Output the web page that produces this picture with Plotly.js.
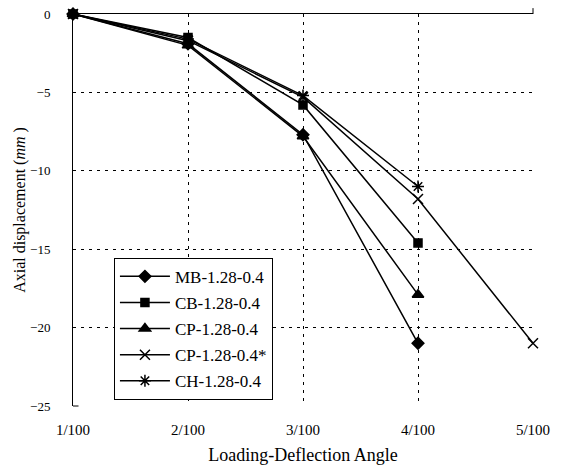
<!DOCTYPE html>
<html><head><meta charset="utf-8">
<script src="https://cdn.plot.ly/plotly-3.0.1.min.js"></script>
<style>body{margin:0;background:#fff}#c{width:569px;height:466px}</style>
</head><body><div id="c"></div>
<script>
const xVals = [1, 2, 3, 4, 5];
const xTickText = ["1/100", "2/100", "3/100", "4/100", "5/100"];
const yTicks = [0, -5, -10, -15, -20, -25];
const seriesNames = ["MB-1.28-0.4", "CB-1.28-0.4", "CP-1.28-0.4", "CP-1.28-0.4*", "CH-1.28-0.4"];
const mbVals = [0, -1.9, -7.7, -21.0];
const cbVals = [0, -1.5, -5.8, -14.6];
const cpVals = [0, -2.0, -7.8, -17.9];
const cpStarVals = [0, -1.7, -5.3, -11.8, -21.0];
const chVals = [0, -1.6, -5.2, -11.0];

const symbols = ["diamond", "square", "triangle-up", "x-thin-open", "asterisk-open"];
const sizes = [9, 8, 10, 10, 10];
const allVals = [mbVals, cbVals, cpVals, cpStarVals, chVals];

const traces = allVals.map((v, i) => ({
  x: xVals.slice(0, v.length), y: v, name: seriesNames[i], legendgroup: 'g' + i,
  type: 'scatter', mode: 'lines+markers', cliponaxis: false,
  line: {color: '#000', width: 1.5},
  marker: {symbol: symbols[i], size: sizes[i], color: '#000', line: {color: '#000', width: 1.5}}
}));
traces.push({x: [1, 5], y: [0, -25], xaxis: 'x2', yaxis: 'y2', mode: 'none', showlegend: false, hoverinfo: 'skip'});

const font = {family: 'Liberation Serif, Times New Roman, serif', color: '#000'};
const layout = {
  width: 569, height: 466,
  margin: {l: 73, r: 36, t: 14, b: 60},
  paper_bgcolor: '#fff', plot_bgcolor: '#fff',
  font: Object.assign({size: 16}, font),
  showlegend: true,
  legend: {x: 0.089, y: 0.378, xanchor: 'left', yanchor: 'top',
    bordercolor: '#000', borderwidth: 1, bgcolor: '#fff',
    font: Object.assign({size: 17}, font), tracegroupgap: 1, itemwidth: 50},
  xaxis: {range: [1, 5], tickvals: xVals, ticktext: xTickText, showgrid: false, zeroline: false,
    showline: false, ticks: '', ticklabelstandoff: 13,
    tickfont: Object.assign({size: 15}, font),
    title: {text: 'Loading-Deflection Angle', font: Object.assign({size: 18}, font), standoff: 11}},
  yaxis: {range: [-25, 0], tickvals: yTicks, showgrid: false, zeroline: false,
    showline: true, linecolor: '#000', linewidth: 1, ticks: '', ticklabelstandoff: 19,
    tickfont: Object.assign({size: 13}, font),
    title: {text: 'Axial displacement (<i>mm</i> )', font: Object.assign({size: 16}, font), standoff: 0}},
  xaxis2: {overlaying: 'x', side: 'top', range: [1, 5], tickvals: [2, 3, 4], showticklabels: false,
    showgrid: true, gridcolor: '#000', gridwidth: 1, griddash: '3px,5px', zeroline: false,
    showline: true, linecolor: '#000', linewidth: 1, ticks: ''},
  yaxis2: {overlaying: 'y', range: [-25, 0], tickvals: [-5, -10, -15, -20], showticklabels: false,
    showgrid: true, gridcolor: '#000', gridwidth: 1, griddash: '3px,5px', zeroline: false,
    showline: false, ticks: ''},
  shapes: [
    {type: 'line', xref: 'paper', yref: 'paper', x0: 1, x1: 1, y0: 1, y1: 1.015, line: {color: '#000', width: 1}},
    {type: 'line', xref: 'paper', yref: 'paper', x0: 0, x1: 0.012, y0: 0, y1: 0, line: {color: '#000', width: 1}}
  ]
};
Plotly.newPlot('c', traces, layout, {staticPlot: true});
</script></body></html>
